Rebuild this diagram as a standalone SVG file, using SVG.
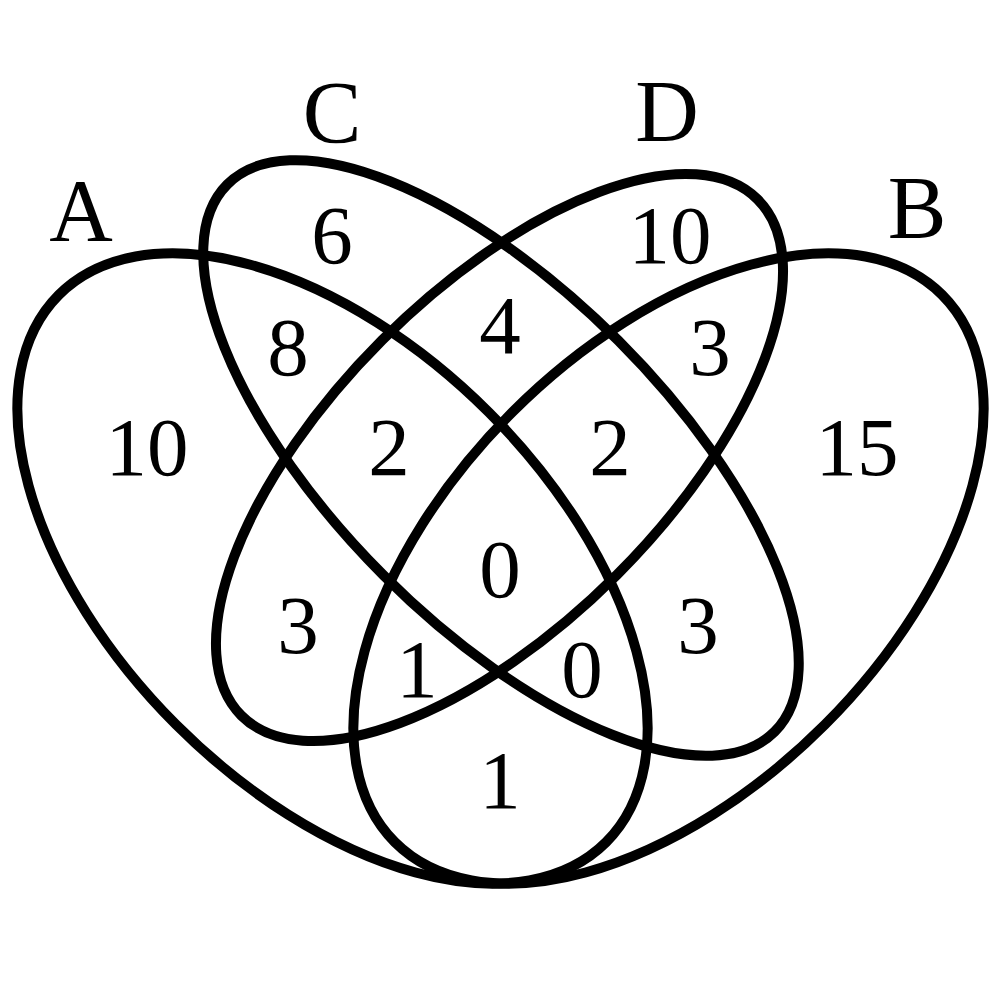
<svg xmlns="http://www.w3.org/2000/svg" width="1000" height="1000" viewBox="0 0 1000 1000">
<style>
.set{fill:none;stroke:#000;stroke-width:10}
.num{font-family:"Liberation Serif","Times New Roman",serif;font-size:83px;text-anchor:middle;fill:#000}
.lbl{font-family:"Liberation Serif","Times New Roman",serif;font-size:88px;text-anchor:middle;fill:#000}
</style>
<rect width="1000" height="1000" fill="#fff"/>
<g id="set-A"><ellipse class="set" cx="0" cy="0" rx="387" ry="221" transform="translate(332.5,568.5) rotate(45)"/><text class="lbl" x="81" y="240">A</text></g>
<g id="set-B"><ellipse class="set" cx="0" cy="0" rx="387" ry="221" transform="translate(668.5,568.5) rotate(-45)"/><text class="lbl" x="917" y="237">B</text></g>
<g id="set-C"><ellipse class="set" cx="0" cy="0" rx="387" ry="166" transform="translate(501,458) rotate(45)"/><text class="lbl" x="332" y="142">C</text></g>
<g id="set-D"><ellipse class="set" cx="0" cy="0" rx="365" ry="166" transform="translate(499.5,457.5) rotate(-45)"/><text class="lbl" x="667" y="141">D</text></g>
<g id="counts">
<text class="num" x="147" y="475">10</text>
<text class="num" x="332" y="263">6</text>
<text class="num" x="288" y="375">8</text>
<text class="num" x="670" y="263">10</text>
<text class="num" x="710" y="375">3</text>
<text class="num" x="857" y="475">15</text>
<text class="num" x="500" y="353">4</text>
<text class="num" x="389" y="475">2</text>
<text class="num" x="610" y="475">2</text>
<text class="num" x="500" y="597">0</text>
<text class="num" x="298" y="653">3</text>
<text class="num" x="698" y="653">3</text>
<text class="num" x="417" y="697">1</text>
<text class="num" x="582" y="697">0</text>
<text class="num" x="500" y="808">1</text>
</g>
</svg>
